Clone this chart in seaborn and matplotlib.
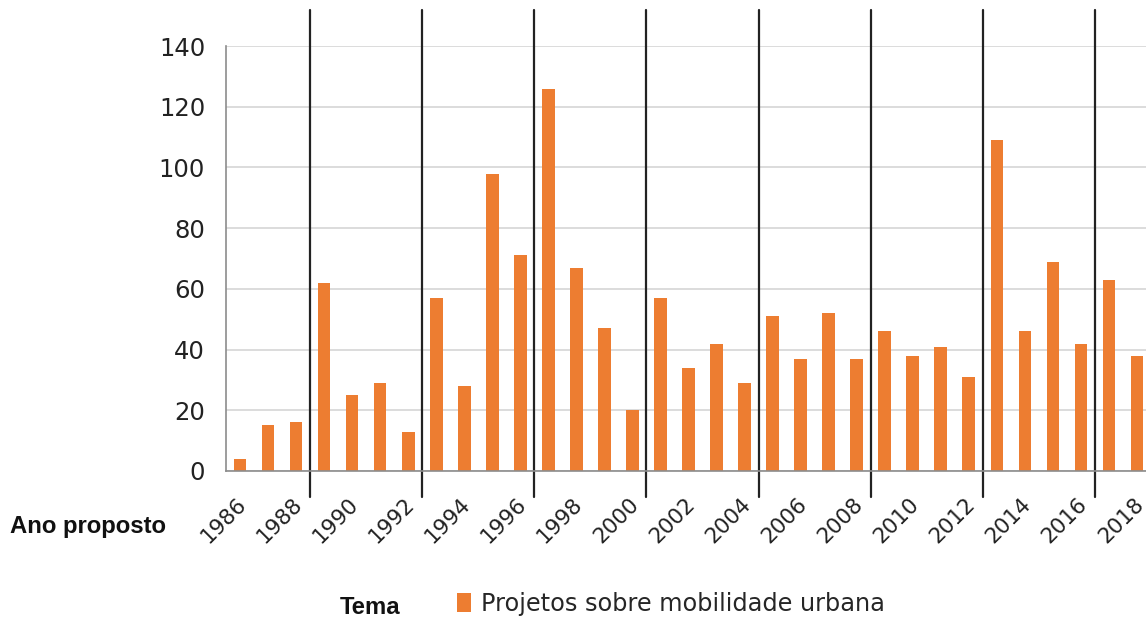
import pandas as pd
import matplotlib.pyplot as plt
import seaborn as sns
from matplotlib.font_manager import FontProperties

years = list(range(1986, 2019))
projetos = [4, 15, 16, 62, 25, 29, 13, 57, 28, 98, 71, 126, 67, 47, 20, 57,
            34, 42, 29, 51, 37, 52, 37, 46, 38, 41, 31, 109, 46, 69, 42, 63, 38]
# last year of each term: a line is drawn after these years
fim_mandato = [1988, 1992, 1996, 2000, 2004, 2008, 2012, 2016]

df = pd.DataFrame({"ano": [str(a) for a in years], "n": projetos})

sns.set_style("white")
plt.rcParams["font.family"] = ["DejaVu Sans"]

fig = plt.figure(figsize=(11.46, 6.18), dpi=100)
ax = fig.add_axes([226 / 1146, 147 / 618, 925 / 1146, 425 / 618])

sns.barplot(data=df, x="ano", y="n", color="#ED7D31", width=0.45, ax=ax,
            saturation=1, linewidth=0, label="Projetos sobre mobilidade urbana")

ax.set_xlim(-0.5, len(years) - 0.5)
ax.set_ylim(0, 140)
ax.set_yticks(range(0, 141, 20))
ax.yaxis.grid(True, color="#d9d9d9", lw=1.3)
ax.set_axisbelow(True)
for s in ["top", "right"]:
    ax.spines[s].set_visible(False)
for s in ["left", "bottom"]:
    ax.spines[s].set_color("#8c8c8c")
    ax.spines[s].set_linewidth(1.2)

# ticks on category boundaries, labels every other year
ax.set_xticks([i - 0.5 for i in range(len(years) + 1)])
ax.set_xticklabels([])
ax.tick_params(axis="x", length=7, color="#8c8c8c", width=1.2)
ax.tick_params(axis="y", length=7, color="#8c8c8c", width=1.2, labelsize=17.5, pad=8)
for i, a in enumerate(years):
    if a % 2 == 0:
        ax.text(i + 0.12, -10, str(a), rotation=45, ha="right", va="center",
                rotation_mode="anchor", fontsize=15.5, color="#222222")
for t in ax.get_yticklabels():
    t.set_color("#222222")

for a in fim_mandato:
    x = years.index(a) + 0.5
    ax.plot([x, x], [-8.5, 152], color="#222222", lw=1.6, clip_on=False)

ax.set_xlabel("")
ax.set_ylabel("")

bold = FontProperties(family="Liberation Sans", weight="bold", stretch="normal", size=17.2)
fig.text(10 / 1146, 1 - 527 / 618, "Ano proposto", fontproperties=bold,
         va="center", ha="left", color="#111111")
fig.text(340 / 1146, 1 - 607 / 618, "Tema", fontproperties=bold,
         va="center", ha="left", color="#111111")

leg = ax.legend(loc="center left", bbox_to_anchor=(435 / 1146, 1 - 604 / 618),
                bbox_transform=fig.transFigure, frameon=False, fontsize=17.3,
                handlelength=0.6, handleheight=0.85, handletextpad=0.4)

fig.savefig("out.png", dpi=100)
